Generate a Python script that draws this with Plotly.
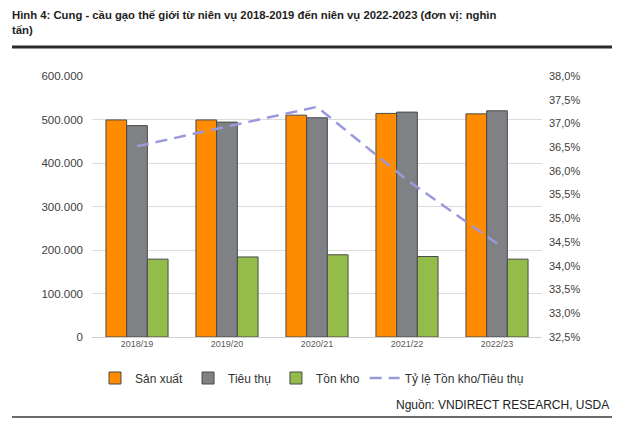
import plotly.graph_objects as go

categories = ["2018/19", "2019/20", "2020/21", "2021/22", "2022/23"]
san_xuat = [499, 499, 510, 514, 513]          # nghìn tấn (x1000)
tieu_thu = [486, 494, 504, 517, 520]
ton_kho = [179, 184, 189, 185, 179]
ty_le = [36.52, 36.94, 37.35, 35.81, 34.47]   # %

san_xuat = [v * 1000 for v in san_xuat]
tieu_thu = [v * 1000 for v in tieu_thu]
ton_kho = [v * 1000 for v in ton_kho]

left_ticks = [0, 100000, 200000, 300000, 400000, 500000, 600000]
right_ticks = [32.5, 33.0, 33.5, 34.0, 34.5, 35.0, 35.5, 36.0, 36.5, 37.0, 37.5, 38.0]
right_labels = ["32,5%", "33,0%", "33,5%", "34,0%", "34,5%", "35,0%",
                "35,5%", "36,0%", "36,5%", "37,0%", "37,5%", "38,0%"]

FONT = "Liberation Sans, Arial, sans-serif"
outline = dict(color="#4A4A4A", width=1)

W, H = 630, 436
L, R, T, B = 92, 542, 76, 337
PW, PH = R - L, B - T


def px(x):
    return (x - L) / PW


def py(y):
    return (B - y) / PH


fig = go.Figure()
fig.add_trace(go.Bar(name="Sản xuất", x=categories, y=san_xuat,
                     marker=dict(color="#FF8C00", line=outline)))
fig.add_trace(go.Bar(name="Tiêu thụ", x=categories, y=tieu_thu,
                     marker=dict(color="#808184", line=outline)))
fig.add_trace(go.Bar(name="Tồn kho", x=categories, y=ton_kho,
                     marker=dict(color="#94BC4A", line=outline)))
fig.add_trace(go.Scatter(name="Tỷ lệ Tồn kho/Tiêu thụ", x=categories, y=ty_le,
                         yaxis="y2", mode="lines",
                         line=dict(color="#9A9ADB", width=2.5, dash="12px,7px")))

fig.update_layout(
    width=W, height=H,
    separators=",.",
    paper_bgcolor="white", plot_bgcolor="white",
    margin=dict(l=L, r=W - R, t=T, b=H - B, autoexpand=False),
    barmode="group", bargap=0.31, bargroupgap=0,
    font=dict(family=FONT, color="#404040"),
    showlegend=True,
    legend=dict(orientation="h", x=px(312), xanchor="center", y=py(378), yanchor="middle",
                font=dict(size=12, color="#333333"), traceorder="normal",
                itemwidth=30, tracegroupgap=0),
    xaxis=dict(tickfont=dict(size=9, color="#595959"), showgrid=False,
               showline=False, ticks=""),
    yaxis=dict(range=[0, 600000], tickvals=left_ticks, tickformat=",.0f",
               tickfont=dict(size=11.5, color="#404040"), gridcolor="#DCDCDC",
               gridwidth=1, zeroline=True, zerolinecolor="#D0D0D0", zerolinewidth=1,
               ticks="", ticklabelstandoff=8),
    yaxis2=dict(range=[32.5, 38.0], tickvals=right_ticks, ticktext=right_labels,
                overlaying="y", side="right", showgrid=False,
                zeroline=False, tickfont=dict(size=11, color="#404040"), ticks="",
                ticklabelstandoff=6),
    annotations=[
        dict(text="<b>Hình 4: Cung - cầu gạo thế giới từ niên vụ 2018-2019 đến niên vụ 2022-2023 (đơn vị: nghìn<br>tấn)</b>",
             xref="paper", yref="paper", x=px(10), y=py(7), xanchor="left", yanchor="top",
             showarrow=False, align="left", font=dict(size=11.3, color="#1E1E1E", family=FONT)),
        dict(text="Nguồn: VNDIRECT RESEARCH, USDA",
             xref="paper", yref="paper", x=px(611), y=py(405), xanchor="right", yanchor="middle",
             showarrow=False, align="right", font=dict(size=12, color="#222222", family=FONT)),
    ],
    shapes=[
        dict(type="line", xref="paper", yref="paper", x0=px(12), x1=px(612),
             y0=py(47), y1=py(47), line=dict(color="#2B2B2B", width=3)),
        dict(type="line", xref="paper", yref="paper", x0=px(12), x1=px(612),
             y0=py(417), y1=py(417), line=dict(color="#6A6A6A", width=2)),
    ],
)

fig.write_html("out.html", config={"displayModeBar": False},
               post_script="document.body.style.margin='0';")
